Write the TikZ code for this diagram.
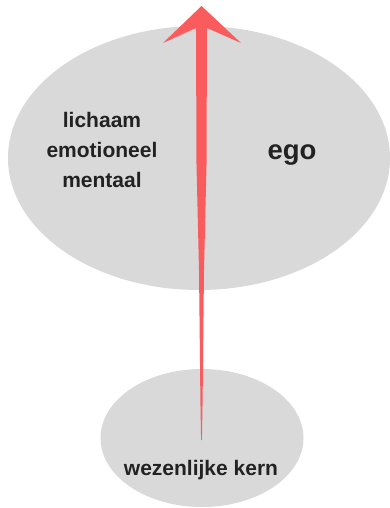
\documentclass[tikz,border=0pt]{standalone}
\usepackage{fontspec}
\setmainfont{Liberation Sans}
\usetikzlibrary{shapes.geometric,positioning}
\definecolor{blobgrey}{HTML}{D9D9D9}
\definecolor{arrowred}{RGB}{250,92,94}
\definecolor{inktxt}{HTML}{222222}

\begin{document}
\begin{tikzpicture}[x=1pt, y=-1pt,
  blob/.style={ellipse, fill=blobgrey, inner sep=0pt},
  lbl/.style={align=center, text=inktxt, font=\bfseries\fontsize{21}{30}\selectfont, inner sep=0pt}]
\useasboundingbox (0,0) rectangle (389,508);
% the two layers
\node[blob, minimum width=382pt, minimum height=264pt] (ego) at (199,158) {};
\node[blob, minimum width=203pt, minimum height=138pt] (kern) at (202,438) {};
\node[lbl] (lagen) at (102,150) {lichaam\\emotioneel\\mentaal};
\node[lbl, font=\bfseries\fontsize{27.5}{30}\selectfont] (egotxt) at (292,155) {ego};
\node[lbl, anchor=base] (kerntxt) at (201,475) {wezenlijke kern};
% tapered arrow from the core up through the ego
\coordinate (core) at (201.5,440);
\coordinate (top) at (201.5,6);
\fill[arrowred] (top) -- (241,43) -- (207,28) -- (206.5,165) -- (204,270)
  -- (202.6,400) -- ([xshift=0.4pt]core) -- ([xshift=-0.4pt]core)
  -- (200.4,400) -- (199,270) -- (196.5,165) -- (196,28) -- (163,43) -- cycle;
\end{tikzpicture}
\end{document}
